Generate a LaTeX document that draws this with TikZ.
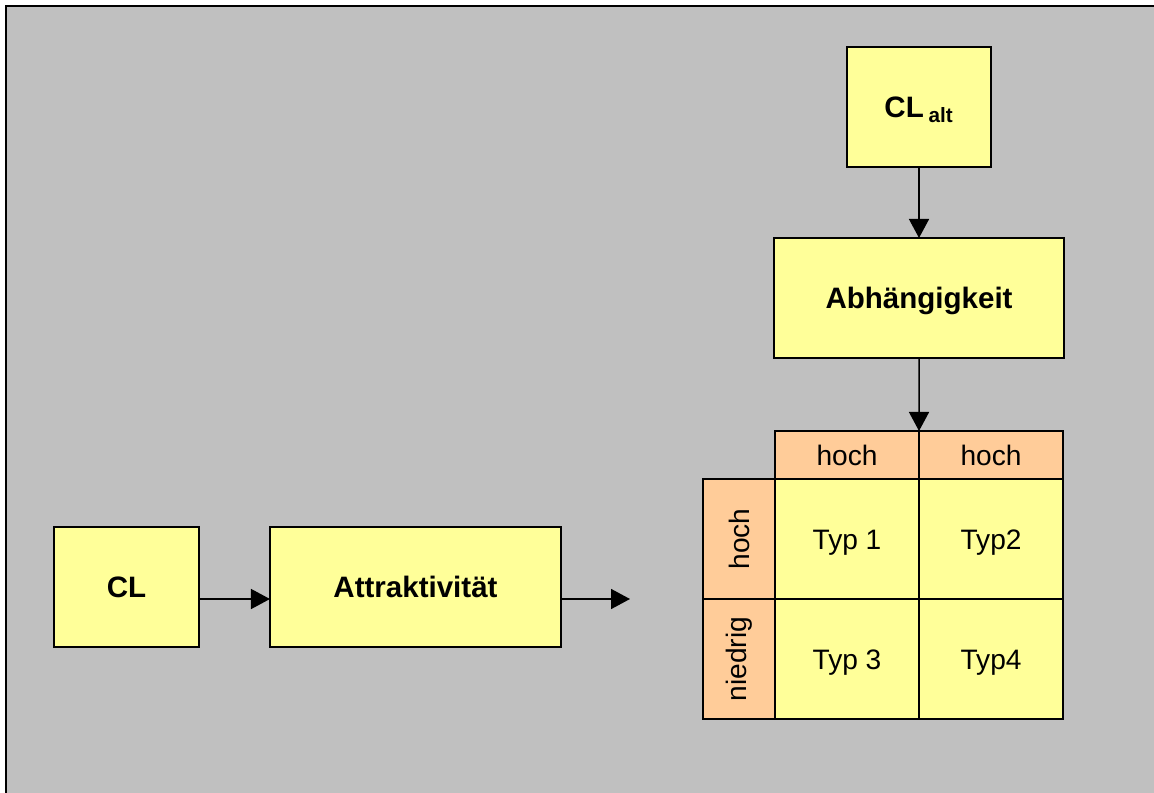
\documentclass[tikz,border=0pt]{standalone}
\usepackage{fontspec}
\setmainfont{Liberation Sans}
\usetikzlibrary{positioning, arrows.meta}
\definecolor{boxyellow}{HTML}{FFFF99}
\definecolor{headorange}{HTML}{FFCC99}
\definecolor{framegray}{HTML}{C0C0C0}

\begin{document}
\begin{tikzpicture}[x=0.025cm, y=-0.025cm,
    box/.style={draw, line width=1.4pt, fill=boxyellow, outer sep=0pt, inner sep=0pt, text height=15pt, text depth=0pt, font=\fontsize{21}{25}\selectfont\bfseries},
    cellbase/.style={draw, line width=1.4pt, fill=boxyellow, outer sep=0pt, inner sep=0pt, minimum width=3.6cm, minimum height=3cm, font=\fontsize{20}{24}\selectfont},
    cell/.style={cellbase, text height=14.3pt, text depth=0pt},
    headcell/.style={cell, fill=headorange, minimum height=1.2cm},
    sidecell/.style={cellbase, fill=headorange, minimum width=1.8cm},
    arr/.style={-{Triangle[length=0.475cm, width=0.5cm]}, line width=1.1pt}]
    % frame
    \path[use as bounding box] (0,0) rectangle (1154,793);
    \fill[framegray] (6,6) rectangle (1154,793);
    \draw[line width=1.4pt] (6,793) -- (6,6) -- (1154,6);

    % left chain
    \node (cl) at (126.5,587) [box, minimum width=3.625cm, minimum height=3cm] {CL};
    \node (attr) at (415.5,587) [box, minimum width=7.275cm, minimum height=3cm] {Attraktivität};
    \coordinate (attr out) at (630,599);

    \draw[arr] ([yshift=-0.3cm]cl.east) -- ([yshift=-0.3cm]attr.west);
    \draw[arr] ([yshift=-0.3cm]attr.east) -- (attr out);

    % right chain
    \node (cl alt) at (919,107) [box, minimum width=3.6cm, minimum height=3cm] {CL\,\textsubscript{alt}};
    \node (abh) at (919,298) [box, minimum width=7.25cm, minimum height=3cm] {Abhängigkeit};

    % matrix
    \node (h1) at (847,455) [headcell] {hoch};
    \node[right=0cm of h1] (h2) [headcell] {hoch};
    \node[below=0cm of h1] (t1) [cell] {Typ 1};
    \node[right=0cm of t1] (t2) [cell] {Typ2};
    \node[below=0cm of t1] (t3) [cell] {Typ 3};
    \node[right=0cm of t3] (t4) [cell] {Typ4};
    \node[left=0cm of t1] (s1) [sidecell] {\rotatebox{90}{hoch}};
    \node[left=0cm of t3] (s2) [sidecell] {\rotatebox{90}{niedrig}};

    \draw[arr] (cl alt) -- (abh);
    \draw[arr] (abh) -- (h1.north east);
\end{tikzpicture}
\end{document}
